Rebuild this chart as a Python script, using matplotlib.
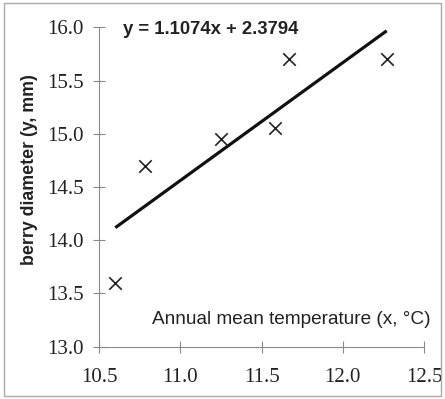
import matplotlib
matplotlib.use("Agg")
import matplotlib.pyplot as plt
import numpy as np
from matplotlib.patches import Rectangle

# Observations: annual mean temperature vs. berry diameter
temperature = [10.6, 10.78, 11.25, 11.58, 11.67, 12.27]
diameter = [13.6, 14.7, 14.95, 15.05, 15.7, 15.7]

# Linear fit coefficients
slope = 1.1074
intercept = 2.3794

x_ticks = [10.5, 11.0, 11.5, 12.0, 12.5]
y_ticks = [13.0, 13.5, 14.0, 14.5, 15.0, 15.5, 16.0]

axis_grey = "#8a8a8a"

fig = plt.figure(figsize=(4.45, 3.99), dpi=100)
ax = fig.add_axes([0.2225, 0.131, 0.7305, 0.8006])

ax.scatter(temperature, diameter, marker="x", s=80, color="#222222", linewidths=1.2, zorder=3)

fit_x = np.array([min(temperature), max(temperature)])
ax.plot(fit_x, slope * fit_x + intercept, color="#111111", linewidth=2.3, solid_capstyle="butt", zorder=2)

ax.set_xlim(10.5, 12.5)
ax.set_ylim(13.0, 16.0)
ax.set_xticks(x_ticks)
ax.set_yticks(y_ticks)
ax.set_xticklabels([f"{v:.1f}" for v in x_ticks])
ax.set_yticklabels([f"{v:.1f}" for v in y_ticks])

for side in ("top", "right"):
    ax.spines[side].set_visible(False)
for side in ("left", "bottom"):
    ax.spines[side].set_color(axis_grey)
    ax.spines[side].set_linewidth(0.8)

ax.tick_params(direction="inout", length=8, width=0.8, color=axis_grey,
               labelsize=15, labelcolor="#222222")
for lab in ax.get_xticklabels() + ax.get_yticklabels():
    lab.set_family("Liberation Serif")
ax.tick_params(axis="x", pad=11)
ax.tick_params(axis="y", pad=7)

ax.text(10.648, 15.98, f"y = {slope:.4f}x + {intercept:.4f}", fontsize=13.3, fontweight="bold",
        family="Liberation Sans", color="#222222", va="center", ha="left")

ax.text(12.537, 13.18, "Annual mean temperature (x, °C)", fontsize=13.7, family="Liberation Sans",
        color="#222222", va="bottom", ha="right")

ax.text(-0.214, 0.556, "berry diameter (y, mm)", transform=ax.transAxes, rotation=90,
        fontsize=12.8, fontweight="bold", family="Liberation Sans", color="#222222",
        va="center", ha="center")

fig.patches.append(Rectangle((0.009, 0.008), 0.982, 0.985, transform=fig.transFigure,
                             fill=False, edgecolor="#aaaaaa", linewidth=1.0))

fig.savefig("out.png", dpi=100)
